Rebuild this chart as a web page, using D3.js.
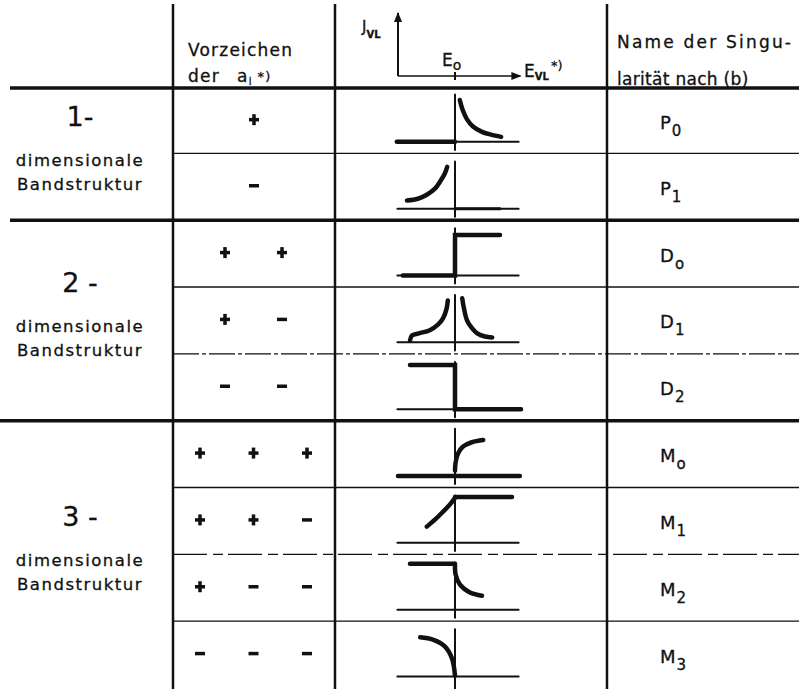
<!DOCTYPE html>
<html>
<head>
<meta charset="utf-8">
<script src="https://cdn.jsdelivr.net/npm/d3@7"></script>
<style>
  body { margin: 0; background: #fff; }
  text { font-family: "DejaVu Sans", sans-serif; fill: #111; stroke: #111; stroke-width: 0.3; }
</style>
</head>
<body>
<div id="chart"></div>
<script>
const groupLabels = ["1-", "2 -", "3 -"];
const groupSizes = [2, 3, 4];

// sign of the a_i per row
const signs = [
  ["+"], ["-"],
  ["+", "+"], ["+", "-"], ["-", "-"],
  ["+", "+", "+"], ["+", "+", "-"], ["+", "-", "-"], ["-", "-", "-"]
];

// singularity names (letter, subscript)
const names = [
  ["P", "0"], ["P", "1"],
  ["D", "o"], ["D", "1"], ["D", "2"],
  ["M", "o"], ["M", "1"], ["M", "2"], ["M", "3"]
];

// sketched density of states J(E) per row, E relative to E0 (-1..1), J 0..1
const strokes = [
  {row: 0, smooth: false, pts: [[-0.97, 0], [0, 0]]},
  {row: 0, smooth: true,  pts: [[0.08, 0.93], [0.13, 0.7], [0.2, 0.5], [0.3, 0.34], [0.45, 0.22], [0.6, 0.16], [0.77, 0.11]]},
  {row: 1, smooth: true,  pts: [[-0.8, 0.18], [-0.62, 0.22], [-0.47, 0.31], [-0.33, 0.45], [-0.25, 0.6], [-0.17, 0.78], [-0.13, 0.93]]},
  {row: 1, smooth: false, w: 3, pts: [[0, 0], [0.75, 0]]},
  {row: 2, smooth: false, pts: [[-0.87, 0], [0, 0], [0, 0.9], [0.75, 0.9]]},
  {row: 3, smooth: true,  pts: [[-0.75, 0.04], [-0.72, 0.15], [-0.6, 0.2], [-0.42, 0.27], [-0.28, 0.4], [-0.2, 0.53], [-0.14, 0.75], [-0.12, 0.93]]},
  {row: 3, smooth: true,  pts: [[0.12, 0.98], [0.15, 0.75], [0.2, 0.49], [0.28, 0.32], [0.37, 0.2], [0.5, 0.13], [0.62, 0.11]]},
  {row: 4, smooth: false, pts: [[-0.75, 0.98], [0, 0.98], [0, 0], [1.1, 0]]},
  {row: 5, smooth: false, pts: [[-0.95, 0], [1.08, 0]]},
  {row: 5, smooth: true,  pts: [[0, 0.12], [0.01, 0.3], [0.05, 0.5], [0.13, 0.65], [0.28, 0.75], [0.47, 0.8]]},
  {row: 6, smooth: true,  pts: [[-0.47, 0.36], [-0.33, 0.52], [-0.2, 0.69], [-0.08, 0.86], [0, 1.0]]},
  {row: 6, smooth: false, pts: [[0, 1.02], [0.95, 1.02]]},
  {row: 7, smooth: false, pts: [[-0.75, 1.02], [0, 1.02]]},
  {row: 7, smooth: true,  pts: [[0, 1.0], [0.01, 0.78], [0.08, 0.56], [0.25, 0.38], [0.45, 0.31]]},
  {row: 8, smooth: true,  pts: [[-0.58, 0.87], [-0.37, 0.82], [-0.17, 0.67], [-0.05, 0.4], [0, 0.02]]}
];

// ---- layout ----
const W = 799, H = 689;
const colX = [173, 335, 607];
const headerY = 88;

const svg = d3.select("#chart").append("svg")
    .attr("width", W).attr("height", H)
    .style("background", "#fff");

svg.append("defs").append("marker")
    .attr("id", "arrow")
    .attr("viewBox", "0 0 10 10")
    .attr("refX", 9).attr("refY", 5)
    .attr("markerWidth", 10).attr("markerHeight", 10)
    .attr("markerUnits", "userSpaceOnUse")
    .attr("orient", "auto")
  .append("path").attr("d", "M0,1 L10,5 L0,9 Z").attr("fill", "#111");

const nRows = signs.length;
const rowY = d3.scaleLinear().domain([0, nRows]).range([86.5, 688]);
const E = d3.scaleLinear().domain([-1, 1]).range([395, 515]);
const jScale = r => d3.scaleLinear().domain([0, 1]).range([rowY(r + 1) - 11.5, rowY(r + 1) - 56.5]);
const rowMid = r => (Math.max(rowY(r), headerY) + rowY(r + 1)) / 2;

const groupStart = d3.cumsum([0].concat(groupSizes.slice(0, -1)));

// ---- grid lines ----
const grid = svg.append("g").attr("stroke", "#111").attr("fill", "none");

grid.selectAll("line.v").data(colX).join("line")
    .attr("class", "v")
    .attr("x1", d => d).attr("x2", d => d)
    .attr("y1", 4).attr("y2", H)
    .attr("stroke-width", 2.5);

grid.append("line")
    .attr("x1", 10).attr("x2", W)
    .attr("y1", headerY).attr("y2", headerY)
    .attr("stroke-width", 3.5);

const dashed = {4: "26 3 4 3", 7: "34 6 10 5"};
grid.selectAll("line.h").data(d3.range(1, nRows)).join("line")
    .attr("class", "h")
    .attr("x1", i => groupStart.includes(i) ? (i === 5 ? 0 : 10) : colX[0])
    .attr("x2", W)
    .attr("y1", i => rowY(i)).attr("y2", i => rowY(i))
    .attr("stroke-width", i => groupStart.includes(i) ? 3.5 : 1.4)
    .attr("stroke-dasharray", i => dashed[i] || null);

// ---- header ----
const hdr = svg.append("g");
hdr.append("text").attr("x", 188).attr("y", 56)
    .attr("font-size", 17).attr("letter-spacing", 1.2).text("Vorzeichen");
const der = hdr.append("text").attr("x", 188).attr("y", 82)
    .attr("font-size", 17).attr("letter-spacing", 1.2);
der.append("tspan").text("der");
der.append("tspan").attr("x", 237).text("a");
der.append("tspan").attr("font-size", 10).attr("dy", 3).text("i");
der.append("tspan").attr("font-size", 13).attr("dy", -4).attr("dx", 5).text("*)");

const jl = hdr.append("text").attr("x", 362).attr("y", 32).attr("font-size", 15);
jl.append("tspan").text("J");
jl.append("tspan").attr("font-size", 10).attr("font-weight", "bold").attr("dy", 6).text("VL");

hdr.append("line")
    .attr("x1", E(-0.95)).attr("x2", E(-0.95))
    .attr("y1", 76).attr("y2", 13)
    .attr("stroke", "#111").attr("stroke-width", 2)
    .attr("marker-end", "url(#arrow)");
hdr.append("line")
    .attr("x1", E(-0.95)).attr("x2", E(1.09))
    .attr("y1", 76).attr("y2", 76)
    .attr("stroke", "#111").attr("stroke-width", 1.5)
    .attr("marker-end", "url(#arrow)");
hdr.append("line")
    .attr("x1", E(0)).attr("x2", E(0))
    .attr("y1", 72).attr("y2", 80)
    .attr("stroke", "#111").attr("stroke-width", 2);

const e0 = hdr.append("text").attr("x", 442).attr("y", 66).attr("font-size", 17);
e0.append("tspan").text("E");
e0.append("tspan").attr("font-size", 14).attr("dy", 4).text("o");

const evl = hdr.append("text").attr("x", 524).attr("y", 77).attr("font-size", 17);
evl.append("tspan").text("E");
evl.append("tspan").attr("font-size", 10).attr("font-weight", "bold").attr("dy", 3).text("VL");
evl.append("tspan").attr("font-size", 13).attr("dy", -10).attr("dx", 2).text("*)");

hdr.append("text").attr("x", 617).attr("y", 48)
    .attr("font-size", 17).attr("letter-spacing", 2.2).text("Name der Singu-");
hdr.append("text").attr("x", 617).attr("y", 85)
    .attr("font-size", 17).attr("letter-spacing", 0.3).text("larität nach (b)");

// ---- group labels ----
const grp = svg.append("g").attr("text-anchor", "middle");
groupLabels.forEach((lab, g) => {
  const top = Math.max(rowY(groupStart[g]), headerY);
  const bot = rowY(groupStart[g] + groupSizes[g]);
  const c = (top + bot) / 2;
  grp.append("text").attr("x", 80).attr("y", c - 28)
      .attr("font-size", 27).text(lab);
  grp.append("text").attr("x", 80).attr("y", c + 12)
      .attr("font-size", 16.5).attr("letter-spacing", 1.5).text("dimensionale");
  grp.append("text").attr("x", 80).attr("y", c + 36)
      .attr("font-size", 16.5).attr("letter-spacing", 1.5).text("Bandstruktur");
});

// ---- signs ----
const signG = svg.append("g").attr("stroke", "#111").attr("stroke-width", 3.5);
signs.forEach((row, r) => {
  const n = row.length;
  const sx = d3.scalePoint().domain(d3.range(n))
      .range(n === 1 ? [254, 254] : n === 2 ? [225, 282] : [200, 307]);
  const cy = rowMid(r) - 1;
  row.forEach((s, i) => {
    const cx = sx(i);
    signG.append("line").attr("x1", cx - 5).attr("x2", cx + 5).attr("y1", cy).attr("y2", cy);
    if (s === "+") signG.append("line").attr("x1", cx).attr("x2", cx).attr("y1", cy - 5.5).attr("y2", cy + 5.5);
  });
});

// ---- names ----
const nameG = svg.append("g");
names.forEach(([base, sub], r) => {
  const t = nameG.append("text").attr("x", 660).attr("y", rowMid(r) + 8).attr("font-size", 18);
  t.append("tspan").text(base);
  t.append("tspan").attr("font-size", 15).attr("dy", 7).attr("dx", 1).text(sub);
});

// ---- density-of-states sketches ----
const sk = svg.append("g").attr("fill", "none").attr("stroke", "#111").attr("stroke-linecap", "round");

d3.range(nRows).forEach(r => {
  const J = jScale(r);
  sk.append("line")
      .attr("x1", E(-0.96)).attr("x2", E(1.06))
      .attr("y1", J(0)).attr("y2", J(0))
      .attr("stroke-width", 2);
  sk.append("line")
      .attr("x1", E(0)).attr("x2", E(0))
      .attr("y1", r === nRows - 1 ? H : J(-0.18)).attr("y2", J(1.05))
      .attr("stroke-width", 2);
});

strokes.forEach(s => {
  const J = jScale(s.row);
  const line = d3.line()
      .x(d => E(d[0])).y(d => J(d[1]))
      .curve(s.smooth ? d3.curveCatmullRom : d3.curveLinear);
  sk.append("path")
      .attr("d", line(s.pts))
      .attr("stroke-width", s.w || 4.5)
      .attr("stroke-linejoin", "miter");
});
</script>
</body>
</html>
